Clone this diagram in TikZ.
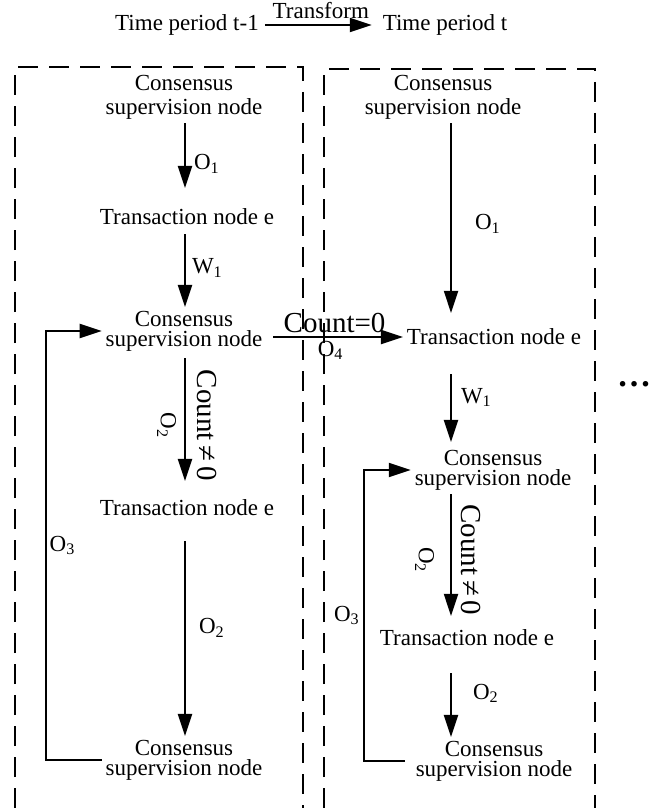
\documentclass[tikz,border=0pt]{standalone}
\usepackage{fontspec}
\setmainfont{Liberation Serif}
\usetikzlibrary{arrows.meta, calc}

\begin{document}
\begin{tikzpicture}[x=0.5pt, y=-0.5pt, line width=1pt,
    >={Triangle[length=11pt, width=7pt]},
    txt/.style={font=\fontsize{11.5}{10}\selectfont, inner sep=1.5pt},
    cnode/.style={txt, align=center},
    topnode/.style={cnode, font=\fontsize{11.5}{12}\selectfont},
    big/.style={font=\fontsize{14.5}{14.5}\selectfont, inner sep=1.5pt},
    frame/.style={line width=0.7pt, dash pattern=on 10pt off 5.5pt}]
  \useasboundingbox (0,0) rectangle (658,808);
  % period frames
  \foreach \xa/\xb/\yt in {15/303/67, 324/595/69}
    \draw[frame] (\xa,808) -- (\xa,\yt) -- (\xb,\yt) -- (\xb,808);
  % header
  \node[txt] (tl) at (187,25) {Time period t-1};
  \node[txt] (tr) at (445,25) {Time period t};
  \draw[->, shorten <=1pt, shorten >=3.5pt] (tl.east) -- (tr.west)
    node[midway, above, txt, yshift=1pt] {Transform};
  % period t-1
  \coordinate (lx) at (185,0);
  \node[topnode] (c1) at (184,97) {Consensus\\supervision node};
  \node[txt] (e1) at (187,217) {Transaction node e};
  \node[cnode] (c2) at (184,331) {Consensus\\supervision node};
  \node[txt] (e2) at (187,508) {Transaction node e};
  \node[cnode] (c3) at (184,760) {Consensus\\supervision node};
  \draw[->, shorten <=0pt, shorten >=8.5pt] (lx |- c1.south) -- (lx |- e1.north)
    node[midway, right, txt, xshift=2.5pt] {O\textsubscript{1}};
  \draw[->, shorten <=2.5pt, shorten >=0pt] (lx |- e1.south) -- (lx |- c2.north)
    node[midway, right, txt, xshift=1.5pt] {W\textsubscript{1}};
  \draw[->, shorten <=1.5pt, shorten >=7.5pt] (lx |- c2.south) -- (lx |- e2.north)
    node[midway, big, rotate=-90, anchor=south, outer sep=4.5pt] {Count\,≠\,0}
    node[midway, txt, rotate=-90, anchor=north, outer sep=3pt] {O\textsubscript{2}};
  \draw[->, shorten <=10.5pt, shorten >=0pt] (lx |- e2.south) -- (lx |- c3.north)
    node[midway, right, txt, xshift=5pt] {O\textsubscript{2}};
  \draw[->] (c3.west) -- ++(-56,0) |- (c2.west)
    node[pos=0.25, right, txt] {O\textsubscript{3}};
  % period t
  \coordinate (rx) at (451,0);
  \node[topnode] (c4) at (443,97) {Consensus\\supervision node};
  \node[txt] (e3) at (494,337) {Transaction node e};
  \node[cnode] (c5) at (493,470) {Consensus\\supervision node};
  \node[txt] (e4) at (467,638) {Transaction node e};
  \node[cnode] (c6) at (494,761) {Consensus\\supervision node};
  \draw[->, shorten <=0pt, shorten >=6pt] (rx |- c4.south) -- (rx |- e3.north)
    node[midway, right, txt, xshift=10pt] {O\textsubscript{1}};
  \draw[->, shorten <=12.5pt, shorten >=2pt] (rx |- e3.south) -- (rx |- c5.north)
    node[midway, right, txt, xshift=3pt] {W\textsubscript{1}};
  \draw[->, shorten >=5pt] (rx |- c5.south) -- (rx |- e4.north)
    node[midway, big, rotate=-90, anchor=south, outer sep=3.5pt] {Count\,≠\,0}
    node[midway, txt, rotate=-90, anchor=north, outer sep=7pt] {O\textsubscript{2}};
  \draw[->, shorten <=11.5pt, shorten >=0pt] (rx |- e4.south) -- (rx |- c6.north)
    node[midway, right, txt, xshift=9pt] {O\textsubscript{2}};
  \draw[->, shorten <=3.5pt] (c6.west) -- ++(-48,0) |- (c5.west)
    node[pos=0.25, left, txt] {O\textsubscript{3}};
  % change between periods
  \draw[->, shorten <=3.5pt] (c2.east |- e3.west) -- (e3.west)
    node[midway, above, big] {Count=0}
    node[midway, below, txt, xshift=-2pt] {O\textsubscript{4}};
  \node[font=\fontsize{17}{17}\selectfont\bfseries] (more) at (634,384) {…};
\end{tikzpicture}
\end{document}
